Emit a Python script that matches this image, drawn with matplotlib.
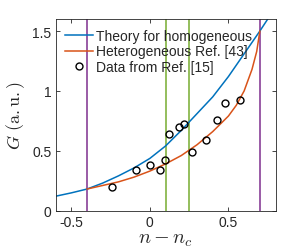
import matplotlib
matplotlib.use("Agg")
import matplotlib.pyplot as plt

# Theory for homogeneous (blue)
hom_x = [-0.6, -0.5, -0.4, -0.3, -0.2, -0.1, 0.0, 0.1, 0.2, 0.3, 0.4, 0.5, 0.6, 0.7, 0.76]
hom_g = [0.12, 0.148, 0.18, 0.23, 0.29, 0.357, 0.436, 0.54, 0.67, 0.81, 0.95, 1.12, 1.31, 1.5, 1.62]

# Heterogeneous Ref. [43] (orange)
het_x = [-0.4, -0.3, -0.2, -0.1, 0.0, 0.1, 0.2, 0.3, 0.4, 0.5, 0.55, 0.6, 0.65, 0.68, 0.7]
het_g = [0.18, 0.21, 0.24, 0.28, 0.33, 0.39, 0.46, 0.55, 0.66, 0.79, 0.88, 1.0, 1.18, 1.33, 1.5]

# Data from Ref. [15]
data_x = [-0.24, -0.09, 0.0, 0.065, 0.095, 0.12, 0.185, 0.22, 0.27, 0.36, 0.425, 0.48, 0.575]
data_g = [0.20, 0.335, 0.385, 0.34, 0.42, 0.64, 0.695, 0.72, 0.49, 0.59, 0.76, 0.90, 0.92]

purple_x = [-0.4, 0.7]
green_x = [0.1, 0.25]

xticks = [-0.5, 0, 0.5]
xticklabels = ["-0.5", "0", "0.5"]
yticks = [0, 0.5, 1, 1.5]
yticklabels = ["0", "0.5", "1", "1.5"]

plt.rcParams['font.family'] = ['Liberation Sans', 'DejaVu Sans']
plt.rcParams['mathtext.fontset'] = 'cm'

fig = plt.figure(figsize=(2.91, 2.51), dpi=100)
ax = fig.add_axes([0.191, 0.157, 0.756, 0.763])

for xv in purple_x:
    ax.axvline(xv, color='#7E2F8E', lw=1.1, zorder=1)
for xv in green_x:
    ax.axvline(xv, color='#77AC30', lw=1.1, zorder=1)

ax.plot(hom_x, hom_g, color='#0072BD', lw=1.1, label='Theory for homogeneous', zorder=2)
ax.plot(het_x, het_g, color='#D95319', lw=1.1, label='Heterogeneous Ref. [43]', zorder=2)
ax.plot(data_x, data_g, 'o', ms=5, mfc='none', mec='black', mew=1.0,
        label='Data from Ref. [15]', zorder=3)

ax.set_xlim(-0.6, 0.8)
ax.set_ylim(0, 1.6)
ax.set_xticks(xticks)
ax.set_xticklabels(xticklabels)
ax.set_yticks(yticks)
ax.set_yticklabels(yticklabels)
ax.tick_params(direction='in', length=3, width=0.6, top=True, right=True,
               labelsize=10, colors='#262626', pad=3)
for s in ax.spines.values():
    s.set_color('#262626')
    s.set_linewidth(0.6)

ax.set_xlabel(r'$n - n_c$', fontsize=14.5, color='#262626', labelpad=0)
ax.set_ylabel(r'$G\ (\mathrm{a.u.})$', fontsize=13, color='#262626', labelpad=4)

leg = ax.legend(loc='upper left', frameon=False, fontsize=10, handlelength=2.0,
                handletextpad=0.2, labelspacing=0.12, borderaxespad=0.5,
                borderpad=0.2)
for t in leg.get_texts():
    t.set_color('#262626')

fig.savefig('out.png', dpi=100)
